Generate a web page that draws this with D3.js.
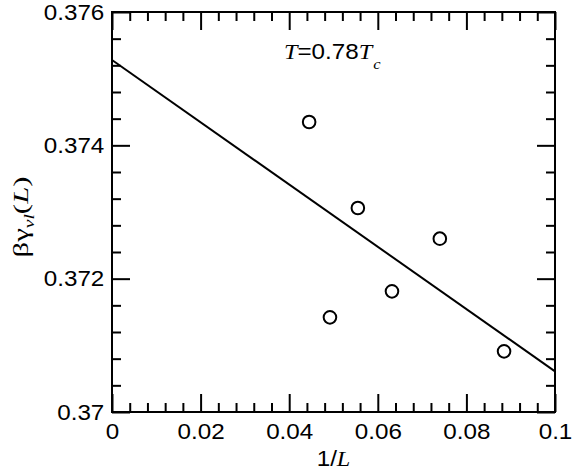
<!DOCTYPE html>
<html>
<head>
<meta charset="utf-8">
<script src="https://cdn.jsdelivr.net/npm/d3@7"></script>
<style>
  body { margin: 0; background: #fff; }
  svg text { fill: #000; }
</style>
</head>
<body>
<svg id="chart" width="572" height="472"></svg>
<script>
// data
const invL  = [0.0445, 0.0492, 0.0555, 0.0632, 0.0740, 0.0885];
const gamma = [0.37435, 0.37142, 0.37306, 0.37181, 0.37260, 0.37091];
// fitted straight line, endpoints as drawn
const fitX = [0, 0.1];
const fitY = [0.37528, 0.37061];

const xMajor = [0, 0.02, 0.04, 0.06, 0.08, 0.1];
const xMinor = [0.004, 0.008, 0.012, 0.016, 0.024, 0.028, 0.032, 0.036, 0.044, 0.048,
                0.052, 0.056, 0.064, 0.068, 0.072, 0.076, 0.084, 0.088, 0.092, 0.096];
const xLabels = ['0', '0.02', '0.04', '0.06', '0.08', '0.1'];
const yMajor = [0.370, 0.372, 0.374, 0.376];
const yMinor = [0.3704, 0.3708, 0.3712, 0.3716, 0.3724, 0.3728, 0.3732, 0.3736,
                0.3744, 0.3748, 0.3752, 0.3756];
const yLabels = ['0.37', '0.372', '0.374', '0.376'];

const L = 112, R = 555, T = 12, B = 412;
const sans = "'Liberation Sans', Arial, sans-serif";
const serif = "'Liberation Serif', 'Times New Roman', serif";
const stretch = 1.1; // the reference glyphs run a bit wider than Arial

const svg = d3.select('#chart');
const x = d3.scaleLinear().domain([0, 0.1]).range([L, R]);
const y = d3.scaleLinear().domain([0.37, 0.376]).range([B, T]);

// ticks on all four sides, pointing inward
function ticks(axis, vals, size, labels) {
  return axis.tickValues(vals).tickSize(-size).tickPadding(labels ? 11 : 0)
    .tickFormat((d, i) => labels ? labels[i] : '');
}
function drawAxis(axis, tx, ty) {
  const g = svg.append('g').attr('transform', `translate(${tx},${ty})`).call(axis);
  g.select('.domain').remove();
  g.selectAll('line').attr('stroke', '#000').attr('stroke-width', 2);
  g.selectAll('text').style('font-family', sans).style('font-size', '22px')
    .attr('transform', `scale(${stretch},1)`).attr('fill', '#000');
  return g;
}
drawAxis(ticks(d3.axisBottom(x), xMajor, 18, xLabels), 0, B);
drawAxis(ticks(d3.axisBottom(x), xMinor, 9), 0, B);
drawAxis(ticks(d3.axisTop(x), xMajor, 18), 0, T);
drawAxis(ticks(d3.axisTop(x), xMinor, 9), 0, T);
drawAxis(ticks(d3.axisLeft(y), yMajor, 18, yLabels).tickPadding(7), L, 0);
drawAxis(ticks(d3.axisLeft(y), yMinor, 9), L, 0);
drawAxis(ticks(d3.axisRight(y), yMajor, 18), R, 0);
drawAxis(ticks(d3.axisRight(y), yMinor, 9), R, 0);

// frame
svg.append('rect').attr('x', L).attr('y', T).attr('width', R - L).attr('height', B - T)
  .attr('fill', 'none').attr('stroke', '#000').attr('stroke-width', 2);

// fit line
const fit = fitX.map((d, i) => [d, fitY[i]]);
svg.append('path').datum(fit)
  .attr('d', d3.line().x(d => x(d[0])).y(d => y(d[1])))
  .attr('fill', 'none').attr('stroke', '#000').attr('stroke-width', 2);

// data circles
svg.selectAll('circle.pt').data(invL).enter().append('circle')
  .attr('class', 'pt')
  .attr('cx', d => x(d)).attr('cy', (d, i) => y(gamma[i])).attr('r', 6.3)
  .attr('fill', 'none').attr('stroke', '#000').attr('stroke-width', 2);

// annotation T=0.78Tc
const ann = svg.append('text')
  .attr('transform', `translate(284,59) scale(${stretch},1)`).style('font-size', '22px');
ann.append('tspan').style('font-family', serif).style('font-style', 'italic').text('T');
ann.append('tspan').style('font-family', sans).text('=0.78');
ann.append('tspan').style('font-family', serif).style('font-style', 'italic').text('T');
ann.append('tspan').style('font-family', serif).style('font-style', 'italic')
  .style('font-size', '15px').attr('dy', 10).attr('dx', 1).text('c');

// x axis title
const xt = svg.append('text')
  .attr('transform', `translate(${(L + R) / 2},466) scale(${stretch},1)`)
  .attr('text-anchor', 'middle').style('font-size', '22px');
xt.append('tspan').style('font-family', sans).text('1/');
xt.append('tspan').style('font-family', serif).style('font-style', 'italic').text('L');

// y axis title
const yt = svg.append('text')
  .attr('transform', `translate(28,217) rotate(-90) scale(1.4,1)`)
  .attr('text-anchor', 'middle').style('font-family', serif).style('font-size', '22px');
yt.append('tspan').text('βγ');
yt.append('tspan').style('font-style', 'italic').style('font-size', '14px').attr('dy', 6).text('vl');
yt.append('tspan').attr('dy', -6).text('(');
yt.append('tspan').style('font-style', 'italic').text('L');
yt.append('tspan').text(')');
</script>
</body>
</html>
